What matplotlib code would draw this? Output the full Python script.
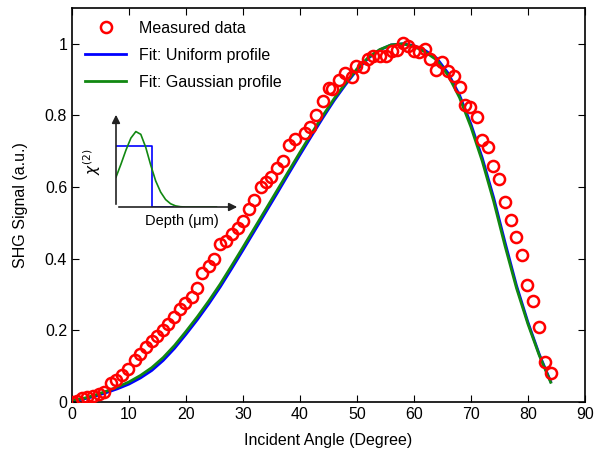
import matplotlib
matplotlib.use('Agg')
import matplotlib.pyplot as plt
import numpy as np

plt.rcParams['font.family'] = ['Liberation Sans', 'DejaVu Sans']

# measured SHG signal vs incident angle
meas_angle = [0.0, 0.8, 1.8, 2.7, 3.6, 4.7, 5.6, 6.8, 7.7, 8.8, 9.9, 11.0, 11.9, 13.0,
              14.0, 15.0, 16.0, 16.9, 17.9, 18.9, 19.9, 21.0, 22.0, 22.9, 24.0, 24.9,
              26.0, 27.0, 28.1, 29.1, 30.0, 31.0, 32.0, 33.1, 34.0, 34.9, 35.9, 37.0,
              38.1, 39.2, 40.8, 41.8, 42.9, 44.0, 45.1, 45.7, 46.9, 47.9, 49.1, 49.9,
              51.0, 52.0, 52.9, 54.0, 55.1, 56.1, 57.0, 58.0, 59.0, 60.0, 60.9, 61.9,
              62.8, 63.8, 65.0, 66.0, 67.0, 68.0, 69.0, 69.9, 71.0, 72.0, 73.0, 73.9,
              74.9, 76.0, 77.0, 78.0, 78.9, 79.9, 80.9, 81.9, 83.0, 84.0]
meas_signal = [0.000, 0.004, 0.010, 0.015, 0.018, 0.022, 0.029, 0.053, 0.062, 0.075, 0.092,
               0.117, 0.133, 0.153, 0.170, 0.184, 0.200, 0.218, 0.238, 0.259, 0.275, 0.294,
               0.318, 0.360, 0.381, 0.399, 0.440, 0.450, 0.470, 0.485, 0.504, 0.538, 0.564,
               0.600, 0.615, 0.629, 0.653, 0.674, 0.718, 0.734, 0.751, 0.767, 0.802, 0.840,
               0.878, 0.873, 0.899, 0.918, 0.907, 0.937, 0.934, 0.957, 0.965, 0.966, 0.966,
               0.981, 0.983, 1.003, 0.994, 0.981, 0.977, 0.985, 0.957, 0.927, 0.949, 0.925,
               0.911, 0.879, 0.830, 0.823, 0.797, 0.732, 0.711, 0.659, 0.623, 0.557, 0.508,
               0.460, 0.411, 0.327, 0.282, 0.210, 0.113, 0.082]

# fitted curves
fit_angle = list(range(0, 86, 2))
fit_gauss = [0.005, 0.010, 0.019, 0.030, 0.042, 0.056, 0.074, 0.096, 0.124, 0.158, 0.197,
             0.238, 0.282, 0.329, 0.380, 0.432, 0.485, 0.538, 0.591, 0.644, 0.697, 0.749,
             0.799, 0.847, 0.890, 0.930, 0.962, 0.984, 0.997, 1.000, 0.993, 0.977, 0.955,
             0.912, 0.850, 0.768, 0.672, 0.560, 0.435, 0.318, 0.218, 0.130, 0.055]
fit_uniform = [0.004, 0.008, 0.016, 0.026, 0.037, 0.050, 0.067, 0.088, 0.116, 0.150, 0.189,
               0.230, 0.274, 0.321, 0.372, 0.424, 0.477, 0.530, 0.583, 0.637, 0.690, 0.742,
               0.793, 0.842, 0.886, 0.927, 0.960, 0.983, 0.997, 1.000, 0.995, 0.981, 0.960,
               0.918, 0.857, 0.776, 0.681, 0.570, 0.445, 0.325, 0.223, 0.133, 0.057]

# inset schematic of chi(2) depth profiles
depth_step = [0.0, 0.29, 0.29, 0.46]
chi_step = [0.66, 0.66, 0.0, 0.0]
depth_gauss = [0.0, 0.04, 0.08, 0.12, 0.16, 0.20, 0.24, 0.28, 0.32, 0.36, 0.40, 0.44,
               0.48, 0.52, 0.56, 0.81]
chi_gauss = [0.32, 0.46, 0.61, 0.74, 0.81, 0.78, 0.64, 0.45, 0.28, 0.16, 0.08, 0.035,
             0.012, 0.003, 0.0, 0.0]

fig = plt.figure(figsize=(5.95, 4.53), dpi=100)
ax = fig.add_axes([0.121, 0.1126, 0.862, 0.8697])

ax.plot(meas_angle, meas_signal, 'o', mfc='none', mec='#ff0000', ms=8, mew=1.8,
        label='Measured data', zorder=3)
ax.plot(fit_angle, fit_uniform, color='#0000ff', lw=2, label='Fit: Uniform profile')
ax.plot(fit_angle, fit_gauss, color='#118811', lw=2, label='Fit: Gaussian profile')

ax.set_xlim(0, 90)
ax.set_ylim(0, 1.1)
ax.set_xticks(range(0, 91, 10))
ax.set_yticks([0, 0.2, 0.4, 0.6, 0.8, 1])
ax.set_yticklabels(['0', '0.2', '0.4', '0.6', '0.8', '1'])
ax.tick_params(direction='in', top=True, right=True, length=5, labelsize=11.5)
ax.set_xlabel('Incident Angle (Degree)', fontsize=11.5, labelpad=8)
ax.set_ylabel('SHG Signal (a.u.)', fontsize=11.5, labelpad=12)
for s in ax.spines.values():
    s.set_linewidth(1.2)

ax.legend(loc='upper left', frameon=False, fontsize=11.5, handlelength=2.6,
          labelspacing=0.75, bbox_to_anchor=(0.0, 1.0), borderaxespad=0.4)

# inset
ins = fig.add_axes([116 / 595, 1 - 207 / 453, 124 / 595, 95 / 453])
ins.set_xlim(0, 1.0)
ins.set_ylim(0, 1.02)
ins.axis('off')
ins.plot(depth_step, chi_step, color='#0000ff', lw=1.2)
ins.plot(depth_gauss, chi_gauss, color='#118811', lw=1.2)
ins.annotate('', xy=(1.0, 0), xytext=(0, 0),
             arrowprops=dict(arrowstyle='-|>', color='#222222', lw=1.2, mutation_scale=12))
ins.annotate('', xy=(0, 1.02), xytext=(0, 0),
             arrowprops=dict(arrowstyle='-|>', color='#222222', lw=1.2, mutation_scale=12))
ins.text(0.53, -0.08, 'Depth (\u03bcm)', ha='center', va='top', fontsize=10.5)
ins.text(-0.19, 0.49, r'$\chi^{(2)}$', ha='center', va='center', fontsize=11, rotation=90)

fig.savefig('out.png', dpi=100)
